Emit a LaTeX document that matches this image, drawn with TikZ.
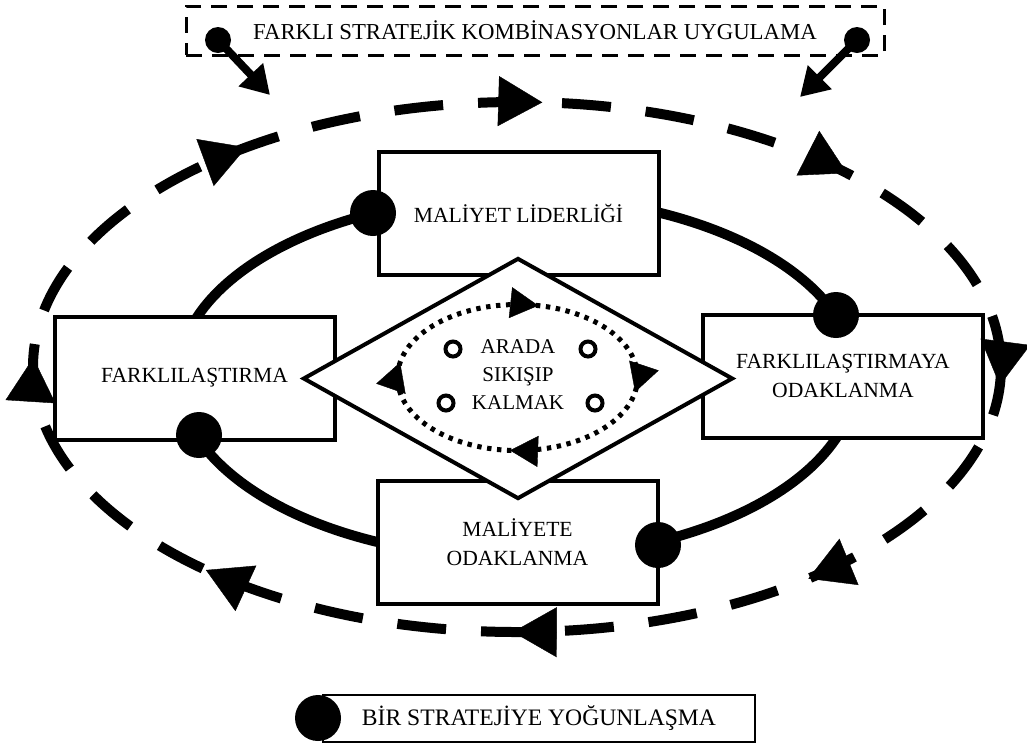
\documentclass[tikz,border=0pt]{standalone}
\usepackage{fontspec}
\setmainfont{Liberation Serif}
\usetikzlibrary{positioning, calc, arrows.meta, shapes.geometric}

\tikzset{
  kutu/.style={draw, line width=2pt, fill=white, minimum width=140pt, minimum height=61.5pt, align=center, font=\fontsize{10.8}{14.5}\selectfont},
  nokta/.style={circle, fill=black, inner sep=0pt, minimum size=23pt},
  halka/.style={draw, line width=2pt},
  buyukok/.style={-{Triangle[length=22pt,width=25pt]}, line width=0.2pt},
  kucukok/.style={-{Triangle[length=14pt,width=15.5pt]}, line width=0.2pt}
}

\begin{document}
\begin{tikzpicture}[x=0.5pt, y=-0.5pt]
  \useasboundingbox (0,0) rectangle (1027,746);
  %ic elips
  \draw[line width=5pt] (517,377) ellipse [x radius=339, y radius=181];
  %kutular
  \node[kutu] (ml) at (518.5,213) {MALİYET LİDERLİĞİ};
  \node[kutu] (fa) at (194.5,378) {FARKLILAŞTIRMA};
  \node[kutu] (fo) at (843,376) {FARKLILAŞTIRMAYA\\ODAKLANMA};
  \node[kutu] (mo) at (517.5,542) {MALİYETE\\ODAKLANMA};
  %orta elmas
  \node[diamond, draw, line width=2pt, fill=white, minimum width=215pt, minimum height=120.5pt, inner sep=0pt] (el) at (518,378.5) {};
  \draw[line width=2.5pt, dash pattern=on 2.2pt off 2.8pt] (517.5,377.5) ellipse [x radius=120, y radius=73];
  \foreach \t in {-80,11.5,93.6,192}
    \draw[kucukok] ({517.5+120*cos(\t)+0.01*120*sin(\t)},{377.5+73*sin(\t)-0.01*73*cos(\t)}) -- ({517.5+120*cos(\t)},{377.5+73*sin(\t)});
  \draw[halka] (453,349) circle [radius=7.5];
  \draw[halka] (588,349) circle [radius=7.5];
  \draw[halka] (446,403) circle [radius=7.5];
  \draw[halka] (595,403) circle [radius=7.5];
  \node[align=center, font=\fontsize{10.5}{14}\selectfont] (ak) at (518,375) {ARADA\\SIKIŞIP\\KALMAK};
  %noktalar
  \node[nokta] (n1) at (373,213) {};
  \node[nokta] (n2) at (836,315) {};
  \node[nokta] (n3) at (199,435) {};
  \node[nokta] (n4) at (658,545) {};
  %dis elips (kesikli)
  \draw[line width=5pt, dash pattern=on 24.5pt off 17.5pt] (517,367) ellipse [x radius=484, y radius=265];
  \foreach \t in {-124,-87,-47,4,53,90.5,130,182}
    \draw[buyukok] ({517+484*cos(\t)+0.01*484*sin(\t)},{367+265*sin(\t)-0.01*265*cos(\t)}) -- ({517+484*cos(\t)},{367+265*sin(\t)});
  %ust kutu
  \node[draw, line width=1.5pt, dash pattern=on 8pt off 5pt, minimum width=349pt, minimum height=24.5pt, font=\fontsize{11.4}{13}\selectfont] (ust) at (535,30.5) {FARKLI STRATEJİK KOMBİNASYONLAR UYGULAMA};
  \node[nokta, minimum size=13pt] (u1) at (218,40) {};
  \node[nokta, minimum size=13pt] (u2) at (857,40) {};
  \coordinate (h1) at (270,95);
  \coordinate (h2) at (800,97);
  \draw[line width=4pt, -{Triangle[length=14pt,width=16pt]}] (u1.center) -- (h1);
  \draw[line width=4pt, -{Triangle[length=14pt,width=16pt]}] (u2.center) -- (h2);
  %aciklama
  \node[draw, line width=0.8pt, minimum width=216pt, minimum height=23.5pt, font=\fontsize{11.8}{13}\selectfont] (ac) at (539,718.5) {BİR STRATEJİYE YOĞUNLAŞMA};
  \node[nokta] (ad) at (318,718) {};
\end{tikzpicture}
\end{document}
